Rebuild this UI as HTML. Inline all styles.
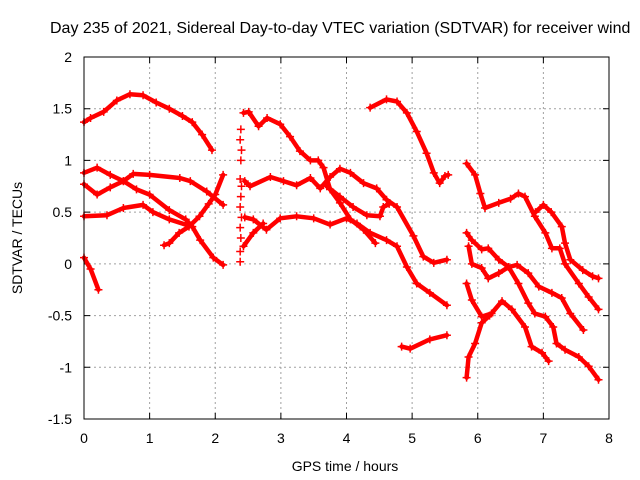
<!DOCTYPE html>
<html><head><meta charset="utf-8">
<style>
html,body{margin:0;padding:0;background:#fff;}
svg{display:block;font-family:"Liberation Sans",sans-serif;}
</style></head>
<body>
<svg id="chart" width="640" height="480" viewBox="0 0 640 480">
<text x="50" y="33" font-size="16" fill="#000">Day 235 of 2021, Sidereal Day-to-day VTEC variation (SDTVAR) for receiver wind</text>
<g id="grid"></g>
<g id="ticks"></g>
<g id="series"></g>
<rect x="84" y="57" width="525" height="362" fill="none" stroke="#000" stroke-width="1"/>
<text x="345" y="471" font-size="14" text-anchor="middle">GPS time / hours</text>
<text x="22" y="238" font-size="14" text-anchor="middle" transform="rotate(-90 22 238)">SDTVAR / TECUs</text>
</svg>
<script>
const xTicks = [0,1,2,3,4,5,6,7,8];
const yTicks = [2,1.5,1,0.5,0,-0.5,-1,-1.5];
const yTickLabels = ["2","1.5","1","0.5","0","-0.5","-1","-1.5"];
const segA = [[0,1.37],[0.1,1.41],[0.3,1.47],[0.5,1.58],[0.7,1.64],[0.9,1.63],[1.1,1.56],[1.3,1.5],[1.5,1.43],[1.65,1.37],[1.8,1.25],[1.95,1.1]];
const segL1 = [[0,0.88],[0.2,0.93],[0.4,0.86],[0.6,0.8],[0.8,0.72],[1.0,0.67],[1.3,0.52],[1.55,0.43],[1.65,0.36],[1.77,0.23],[1.97,0.06],[2.12,-0.01]];
const segL2 = [[0,0.77],[0.2,0.67],[0.4,0.74],[0.6,0.8],[0.75,0.87],[1.0,0.86],[1.46,0.83],[1.62,0.8],[1.87,0.7],[2.12,0.57]];
const segL3 = [[0,0.46],[0.35,0.47],[0.6,0.54],[0.9,0.57],[1.05,0.5],[1.3,0.43],[1.55,0.38]];
const segL4 = [[1.22,0.18],[1.3,0.2],[1.45,0.3],[1.6,0.36],[1.76,0.46],[1.9,0.58],[2.0,0.67],[2.12,0.86]];
const segL5 = [[0,0.06],[0.1,-0.05],[0.22,-0.25]];
const scatterM0 = [[2.39,1.3],[2.38,1.2],[2.4,1.1],[2.39,1.0],[2.38,0.82],[2.4,0.75],[2.39,0.65],[2.38,0.55],[2.4,0.45],[2.38,0.35],[2.39,0.25],[2.38,0.12],[2.38,0.02]];
const segM1 = [[2.43,1.46],[2.51,1.47],[2.66,1.33],[2.79,1.41],[2.99,1.35],[3.14,1.23],[3.29,1.09],[3.45,1.0],[3.57,1.0],[3.65,0.93],[3.75,0.72],[3.9,0.59],[4.06,0.43],[4.26,0.33],[4.44,0.2]];
const segM2 = [[2.45,0.8],[2.53,0.75],[2.84,0.84],[3.04,0.8],[3.24,0.76],[3.45,0.83],[3.6,0.73],[3.75,0.84],[3.9,0.92],[4.06,0.88],[4.26,0.78],[4.46,0.73],[4.61,0.62],[4.77,0.55],[5.02,0.27],[5.17,0.07],[5.33,0.01],[5.53,0.04]];
const segM3 = [[3.7,0.75],[3.9,0.65],[4.1,0.55],[4.31,0.47],[4.51,0.46],[4.56,0.55],[4.65,0.58]];
const segM4 = [[2.45,0.45],[2.58,0.43],[2.78,0.33],[2.99,0.44],[3.24,0.46],[3.5,0.44],[3.75,0.38],[4.0,0.44],[4.16,0.39],[4.36,0.3],[4.61,0.23],[4.77,0.17],[4.92,-0.03],[5.07,-0.19],[5.27,-0.28],[5.53,-0.4]];
const segM5 = [[2.43,0.17],[2.58,0.3],[2.73,0.39]];
const segM6 = [[4.36,1.51],[4.61,1.59],[4.77,1.57],[4.92,1.46],[5.07,1.28],[5.22,1.07],[5.33,0.88],[5.42,0.78],[5.5,0.85],[5.55,0.86]];
const segM7 = [[4.84,-0.8],[4.97,-0.82],[5.27,-0.73],[5.53,-0.69]];
const segR1 = [[5.83,0.97],[5.96,0.86],[6.04,0.68],[6.11,0.54],[6.32,0.59],[6.5,0.63],[6.62,0.68],[6.72,0.65],[6.87,0.46],[7.03,0.3],[7.13,0.15],[7.25,0.15],[7.33,0.0],[7.54,-0.19],[7.69,-0.32],[7.84,-0.44]];
const segR2 = [[6.88,0.5],[7.0,0.57],[7.12,0.5],[7.28,0.36],[7.33,0.2],[7.41,0.04],[7.6,-0.06],[7.75,-0.12],[7.84,-0.14]];
const segR3 = [[5.83,0.3],[5.91,0.23],[6.06,0.14],[6.16,0.15],[6.32,0.04],[6.47,-0.03],[6.6,-0.01],[6.77,-0.09],[6.93,-0.22],[7.13,-0.28],[7.28,-0.33],[7.41,-0.48],[7.61,-0.64]];
const segR4 = [[5.86,0.17],[5.91,0.0],[6.06,-0.04],[6.16,-0.14],[6.32,-0.09],[6.47,-0.03],[6.62,-0.19],[6.77,-0.38],[6.87,-0.48],[7.03,-0.51],[7.15,-0.61],[7.2,-0.77],[7.33,-0.83],[7.54,-0.9],[7.69,-0.99],[7.84,-1.12]];
const segR5 = [[5.83,-0.19],[5.91,-0.35],[6.06,-0.51],[6.21,-0.48],[6.37,-0.36],[6.52,-0.44],[6.72,-0.61],[6.82,-0.8],[6.98,-0.86],[7.08,-0.94]];
const segR6 = [[5.83,-1.1],[5.86,-0.9],[5.96,-0.77],[6.06,-0.57],[6.18,-0.5]];

const segments = [segA,segL1,segL2,segL3,segL4,segL5,segM1,segM2,segM3,segM4,segM5,segM6,segM7,segR1,segR2,segR3,segR4,segR5,segR6];
const segNames = ["a","l1","l2","l3","l4","l5","m1","m2","m3","m4","m5","m6","m7","r1","r2","r3","r4","r5","r6"];

const X0=84, X1=609, Y0=419, Y1=57, XMIN=0, XMAX=8, YMIN=-1.5, YMAX=2;
function xs(t){return X0+(t-XMIN)/(XMAX-XMIN)*(X1-X0);}
function ys(v){return Y0-(v-YMIN)/(YMAX-YMIN)*(Y0-Y1);}
const NS="http://www.w3.org/2000/svg";
function mk(tag,attrs,parent){const e=document.createElementNS(NS,tag);for(const k in attrs)e.setAttribute(k,attrs[k]);parent.appendChild(e);return e;}

const grid=document.getElementById('grid'), ticks=document.getElementById('ticks'), series=document.getElementById('series');
xTicks.forEach((t,i)=>{
  const x=xs(t);
  if(i>0&&i<xTicks.length-1){
    const g=mk('line',{x1:x,y1:Y1,x2:x,y2:Y0,stroke:'#a0a0a0','stroke-dasharray':'2,3'},grid);
    
    
  }
  const tk=mk('path',{d:`M${x},${Y0}v-6M${x},${Y1}v6`,stroke:'#000'},ticks);
  
  
  const lb=mk('text',{x:x,y:443,'font-size':14,'text-anchor':'middle'},ticks);
  lb.textContent=String(t);
  
  
});
yTicks.forEach((v,i)=>{
  const y=ys(v);
  if(i>0&&i<yTicks.length-1){
    const g=mk('line',{x1:X0,y1:y,x2:X1,y2:y,stroke:'#a0a0a0','stroke-dasharray':'2,3'},grid);
    
    
  }
  const tk=mk('path',{d:`M${X0},${y}h6M${X1},${y}h-6`,stroke:'#000'},ticks);
  
  
  const lb=mk('text',{x:72,y:y+5,'font-size':14,'text-anchor':'end'},ticks);
  lb.textContent=yTickLabels[i];
  
  
});
segments.forEach((seg,si)=>{
  const g=mk('g',{},series);
  
  
  const pts=seg.map(p=>xs(p[0]).toFixed(1)+','+ys(p[1]).toFixed(1)).join(' ');
  const pl=mk('polyline',{points:pts,fill:'none',stroke:'#f00','stroke-width':4.5,'stroke-linejoin':'round','stroke-linecap':'round'},g);
  
  
  seg.forEach(p=>{
    const x=xs(p[0]),y=ys(p[1]);
    const m=mk('path',{d:`M${x-4},${y}h8M${x},${y-4}v8`,stroke:'#f00','stroke-width':1.5},g);
    
    
  });
});
const sg=mk('g',{},series);


scatterM0.forEach(p=>{
  const x=xs(p[0]),y=ys(p[1]);
  const m=mk('path',{d:`M${x-4},${y}h8M${x},${y-4}v8`,stroke:'#f00','stroke-width':1.5},sg);
  
  
});
</script>
</body></html>
